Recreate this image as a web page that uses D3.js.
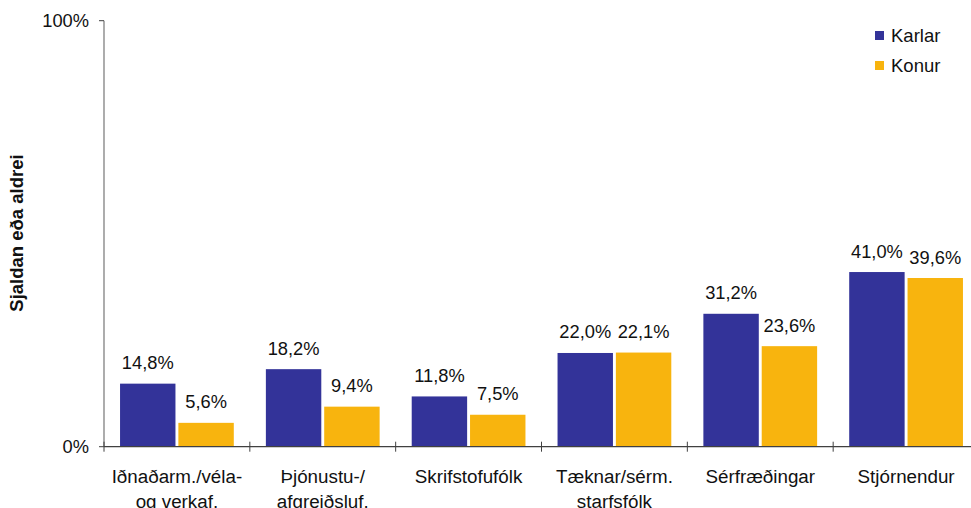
<!DOCTYPE html>
<html><head><meta charset="utf-8">
<script src="https://cdn.jsdelivr.net/npm/d3@7"></script>
<style>body{margin:0;background:#fff}svg{display:block;font-family:"Liberation Sans",Arial,sans-serif}</style>
</head><body>
<svg id="c" width="971" height="508"></svg>
<script>
const categories = [["Iðnaðarm./véla-","og verkaf."],["Þjónustu-/","afgreiðsluf."],["Skrifstofufólk"],["Tæknar/sérm.","starfsfólk"],["Sérfræðingar"],["Stjórnendur"]];
const seriesNames = ["Karlar","Konur"];
const karlar = [14.8,18.2,11.8,22.0,31.2,41.0];
const konur = [5.6,9.4,7.5,22.1,23.6,39.6];
const yTicks = [0,100];
const colors = ["#333399","#f8b40e"];

const svg = d3.select("#c");
const x0 = d3.scaleBand().domain(d3.range(categories.length)).range([104,979]).paddingInner(0.22).paddingOuter(0.11);
const x1 = d3.scaleBand().domain([0,1]).range([0,x0.bandwidth()]).paddingInner(0.05);
const y = d3.scaleLinear().domain([0,100]).range([446.7,20.7]);
const series = [karlar, konur];

// bars
series.forEach((vals,si)=>{
  svg.append("g").selectAll("rect").data(vals).join("rect")
    .attr("x",(d,i)=>x0(i)+x1(si))
    .attr("y",d=>y(d))
    .attr("width",x1.bandwidth())
    .attr("height",d=>y(0)-y(d))
    .attr("fill",colors[si]);
  svg.append("g").selectAll("text").data(vals).join("text")
    .attr("x",(d,i)=>x0(i)+x1(si)+x1.bandwidth()/2)
    .attr("y",d=>y(d)-14.5)
    .attr("text-anchor","middle")
    .attr("font-size",18.3).attr("fill","#111")
    .text(d=>d.toFixed(1).replace(".",",")+"%");
});

// y axis
svg.append("line").attr("x1",104).attr("x2",104).attr("y1",y(100)).attr("y2",y(0)).attr("stroke","#808080").attr("stroke-width",1.3);
yTicks.forEach(t=>{
  svg.append("line").attr("x1",99).attr("x2",104).attr("y1",y(t)).attr("y2",y(t)).attr("stroke","#404040");
  svg.append("text").attr("x",89).attr("y",y(t)+6.5).attr("text-anchor","end").attr("font-size",18.3).attr("fill","#111").text(t+"%");
});

// x axis
svg.append("line").attr("x1",104).attr("x2",979).attr("y1",y(0)).attr("y2",y(0)).attr("stroke","#404040").attr("stroke-width",1.3);
d3.range(categories.length+1).forEach(i=>{
  const xp = 104 + i*(875/categories.length);
  svg.append("line").attr("x1",xp).attr("x2",xp).attr("y1",y(0)-5).attr("y2",y(0)+5).attr("stroke","#404040");
});
categories.forEach((lines,i)=>{
  const t = svg.append("text").attr("x",x0(i)+x0.bandwidth()/2).attr("y",483).attr("text-anchor","middle").attr("font-size",18.8).attr("fill","#111");
  lines.forEach((l,j)=>t.append("tspan").attr("x",x0(i)+x0.bandwidth()/2).attr("dy",j?25:0).text(l));
});

// y title
svg.append("text").attr("transform","translate(23,233) rotate(-90)").attr("text-anchor","middle").attr("font-size",18.5).attr("font-weight","bold").attr("fill","#111").text("Sjaldan eða aldrei");

// legend
seriesNames.forEach((n,i)=>{
  svg.append("rect").attr("x",875).attr("y",31+i*30).attr("width",9).attr("height",9).attr("fill",colors[i]);
  svg.append("text").attr("x",891).attr("y",42+i*30).attr("font-size",18.5).attr("fill","#111").text(n);
});
</script>
</body></html>
